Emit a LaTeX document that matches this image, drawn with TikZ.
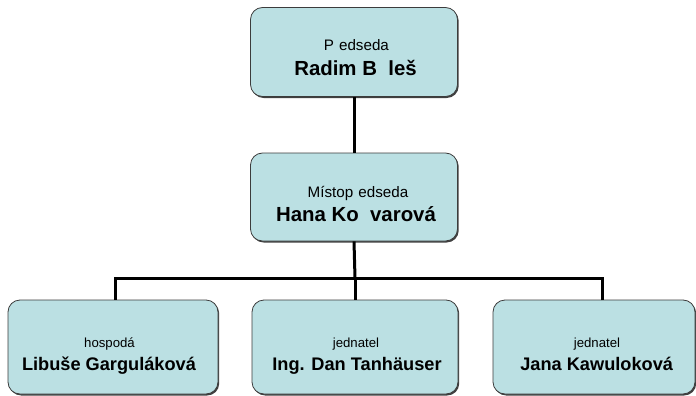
\documentclass[tikz,border=0pt]{standalone}
\usepackage{fontspec}
\setmainfont{Liberation Sans}
\usetikzlibrary{shadows}
\definecolor{boxfill}{RGB}{187,224,227}
\definecolor{boxline}{RGB}{60,60,60}
\tikzset{
  orgbox/.style={draw=boxline, line width=0.8pt, fill=boxfill, rounded corners=12pt,
    minimum width=#1, align=center, inner sep=0pt,
    drop shadow={shadow xshift=1.2pt, shadow yshift=-1.5pt, fill=black!75, opacity=1}},
  link/.style={line width=3pt, black},
  rolebig/.style={font=\fontsize{15.2}{17}\selectfont, inner sep=0pt, anchor=base},
  personbig/.style={font=\bfseries\fontsize{20.4}{22}\selectfont, inner sep=0pt, anchor=base},
  role/.style={font=\fontsize{13.2}{15}\selectfont, inner sep=0pt, anchor=base},
  person/.style={font=\bfseries\fontsize{18.2}{20}\selectfont, inner sep=0pt, anchor=base}
}
\begin{document}
\begin{tikzpicture}[x=1pt,y=-1pt]
\useasboundingbox (0,0) rectangle (696,396);
\node[orgbox=207pt, minimum height=89pt] (top) at (354,52) {};
\node[orgbox=207pt, minimum height=88pt] (mid) at (354,197) {};
\node[orgbox=210pt, minimum height=94pt] (b1) at (113,347) {};
\node[orgbox=206pt, minimum height=94pt] (b2) at (355,347) {};
\node[orgbox=202pt, minimum height=94pt] (b3) at (594,347) {};
\node[rolebig] (t1) at (356.4,51) {P\hspace{0.333em}edseda};
\node[personbig] (t2) at (355.5,75) {Radim B\hspace{0.556em}leš};
\node[rolebig] (m1) at (358,197) {Místop\hspace{0.333em}edseda};
\node[personbig] (m2) at (356,221) {Hana Ko\hspace{0.556em}varová};
\node[role] (l1) at (109.5,347) {hospodá};
\node[person] (l2) at (109,370) {Libuše Garguláková};
\node[role] (c1) at (356,347) {jednatel};
\node[person] (c2) at (357,370) {Ing. Dan Tanhäuser};
\node[role] (r1) at (597,347) {jednatel};
\node[person] (r2) at (596.7,370) {Jana Kawuloková};
\coordinate (hub) at (355,278);
\coordinate (barL) at (115,278);
\coordinate (barR) at (602,278);
\coordinate (r3top) at (602,300);
\draw[link] (top.south) -- (mid.north);
\draw[link] (mid.south) -- (hub);
\draw[link] (r3top) -- (barR) -- (barL) -- (b1.north -| barL);
\draw[link] (hub) -- (b2.north);
\end{tikzpicture}
\end{document}
